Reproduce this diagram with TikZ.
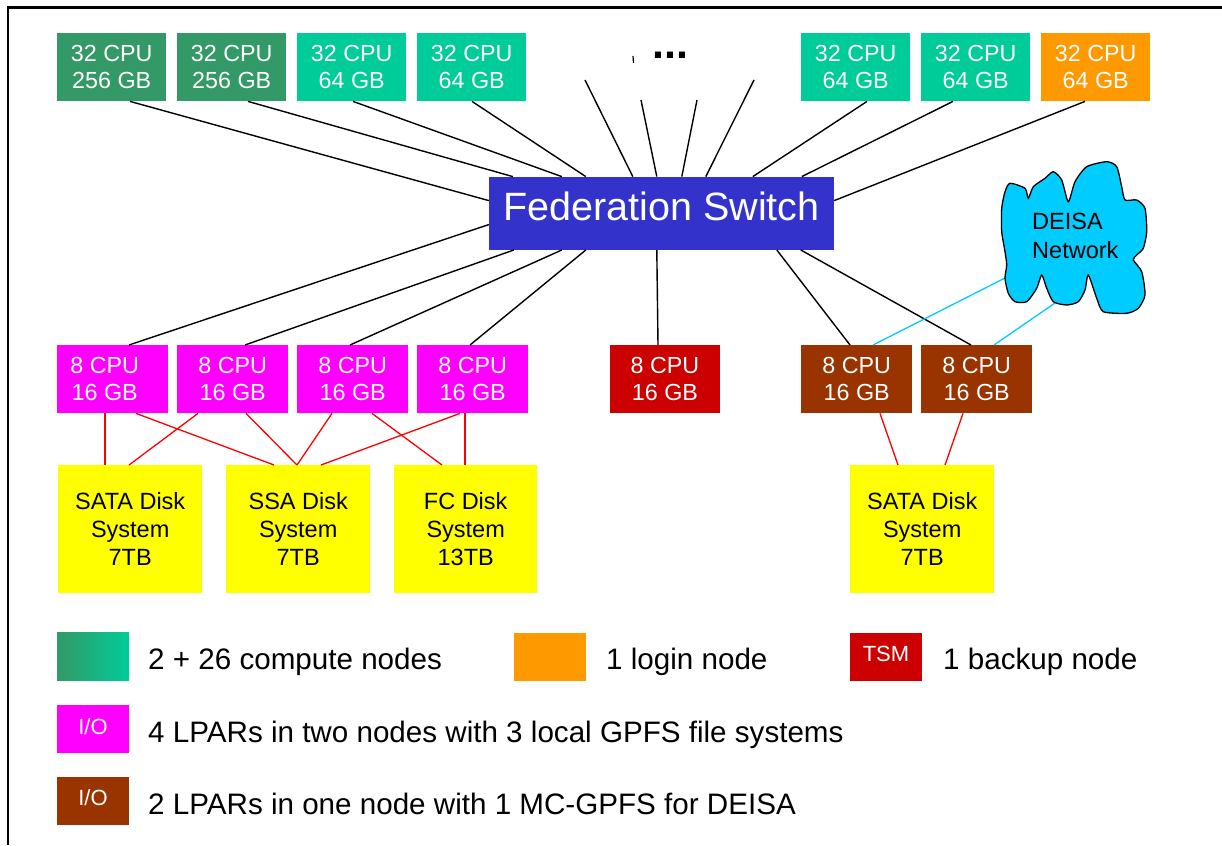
\documentclass[tikz,border=0pt]{standalone}
\usepackage{fontspec}
\setmainfont{Liberation Sans}
\definecolor{dkgreen}{HTML}{339966}
\definecolor{tealc}{HTML}{00CC99}
\definecolor{orange1}{HTML}{FF9900}
\definecolor{switchblue}{HTML}{3333CC}
\definecolor{magenta1}{HTML}{FF00FF}
\definecolor{tsmred}{HTML}{CC0000}
\definecolor{brown1}{HTML}{993300}
\definecolor{diskyellow}{HTML}{FFFF00}
\definecolor{cloudblue}{HTML}{00CCFF}
\definecolor{linkred}{HTML}{FF0000}
\begin{document}
\begin{tikzpicture}[x=1pt,y=-1pt,
  box/.style={anchor=north west, inner sep=0pt, align=center, font=\fontsize{23.3}{27}\selectfont},
  topbox/.style={box, text=white, minimum width=109pt, minimum height=68pt},
  iobox/.style={box, text=white, minimum width=111pt, minimum height=68pt},
  diskbox/.style={box, fill=diskyellow, text=black, minimum width=144pt, minimum height=128pt, font=\fontsize{23.5}{28}\selectfont},
  link/.style={line width=1.4pt, black},
  redlink/.style={line width=1.3pt, linkred},
  bluelink/.style={line width=1.3pt, cloudblue},
  legtext/.style={anchor=base west, inner sep=0pt, font=\fontsize{29.6}{34}\selectfont},
  swatch/.style={anchor=north west, inner sep=0pt, minimum width=72pt, minimum height=48pt},
  swlabel/.style={text=white, inner sep=0pt, font=\fontsize{22}{26}\selectfont}
]
\useasboundingbox (0,0) rectangle (1222,845);
% frame
\draw[line width=2.2pt, line join=miter] (1222,7.5) -- (8,7.5) -- (8,845);

% top row
\node[topbox, fill=dkgreen] (b1) at (57,33) {32 CPU\\256 GB};
\node[topbox, fill=dkgreen] (b2) at (177,33) {32 CPU\\256 GB};
\node[topbox, fill=tealc] (b3) at (297,33) {32 CPU\\64 GB};
\node[topbox, fill=tealc] (b4) at (417,33) {32 CPU\\64 GB};
\node[topbox, fill=tealc] (b5) at (801,33) {32 CPU\\64 GB};
\node[topbox, fill=tealc] (b6) at (921,33) {32 CPU\\64 GB};
\node[topbox, fill=orange1] (b7) at (1041,33) {32 CPU\\64 GB};
\node[inner sep=0pt, anchor=base, font=\bfseries\fontsize{43}{48}\selectfont] (dots) at (670.5,59) {...};
\draw[line width=1.2pt] (633,56) -- (633.5,63);

% switch
\node[fill=switchblue, minimum width=345pt, minimum height=73pt, inner sep=0pt] (sw) at (661.5,213.3) {};
\node[text=white, inner sep=0pt, font=\fontsize{39.5}{44}\selectfont] (swt) at (661.5,206) {Federation Switch};

% free line ends
\coordinate (f1) at (585,80);
\coordinate (f2) at (641,100);
\coordinate (f3) at (697,100);
\coordinate (f4) at (754,80);

% I/O row
\node[iobox, fill=magenta1] (m1) at (57,345) {8 CPU\hspace*{16pt}\\16 GB\hspace*{16pt}};
\node[iobox, fill=magenta1] (m2) at (177,345) {8 CPU\\16 GB};
\node[iobox, fill=magenta1] (m3) at (297,345) {8 CPU\\16 GB};
\node[iobox, fill=magenta1] (m4) at (417,345) {8 CPU\\16 GB};
\node[iobox, fill=tsmred, minimum width=110.5pt] (r1) at (609.5,345) {8 CPU\\16 GB};
\node[iobox, fill=brown1] (br1) at (801,345) {8 CPU\\16 GB};
\node[iobox, fill=brown1] (br2) at (921,345) {8 CPU\\16 GB};

% disks
\node[diskbox] (d1) at (58,465) {SATA Disk\\System\\7TB};
\node[diskbox] (d2) at (226,465) {SSA Disk\\System\\7TB};
\node[diskbox, minimum width=143pt] (d3) at (394,465) {FC Disk\\System\\13TB};
\node[diskbox] (d4) at (850,465) {SATA Disk\\System\\7TB};

% upper connectors
\draw[link] ([xshift=73pt]b1.south west) -- ([yshift=-24pt]sw.north west);
\draw[link] ([xshift=71pt]b2.south west) -- ([xshift=24pt]sw.north west);
\draw[link] ([xshift=56pt]b3.south west) -- ([xshift=73pt]sw.north west);
\draw[link] ([xshift=55pt]b4.south west) -- ([xshift=97pt]sw.north west);
\draw[link] (f1) -- ([xshift=144pt]sw.north west);
\draw[link] (f2) -- ([xshift=168pt]sw.north west);
\draw[link] (f3) -- ([xshift=193pt]sw.north west);
\draw[link] (f4) -- ([xshift=217pt]sw.north west);
\draw[link] ([xshift=66pt]b5.south west) -- ([xshift=264pt]sw.north west);
\draw[link] ([xshift=32pt]b6.south west) -- ([xshift=313pt]sw.north west);
\draw[link] ([xshift=44pt]b7.south west) -- ([yshift=-24pt]sw.north east);

% lower connectors
\draw[link] ([xshift=72pt]m1.north west) -- ([yshift=-48pt]sw.north west);
\draw[link] ([xshift=68pt]m2.north west) -- ([xshift=25pt]sw.south west);
\draw[link] ([xshift=53pt]m3.north west) -- ([xshift=73pt]sw.south west);
\draw[link] ([xshift=53pt]m4.north west) -- ([xshift=97pt]sw.south west);
\draw[link] ([xshift=48.5pt]r1.north west) -- ([xshift=168pt]sw.south west);
\draw[link] ([xshift=49pt]br1.north west) -- ([xshift=288pt]sw.south west);
\draw[link] ([xshift=50pt]br2.north west) -- ([xshift=312pt]sw.south west);

% disk links
\draw[redlink] ([xshift=48pt]m1.south west) -- ([xshift=47pt]d1.north west);
\draw[redlink] ([xshift=79pt]m1.south west) -- ([xshift=48pt]d2.north west);
\draw[redlink] ([xshift=21pt]m2.south west) -- ([xshift=71pt]d1.north west);
\draw[redlink] ([xshift=69pt]m2.south west) -- ([xshift=71pt]d2.north west);
\draw[redlink] ([xshift=35pt]m3.south west) -- ([xshift=71pt]d2.north west);
\draw[redlink] ([xshift=75pt]m3.south west) -- ([xshift=48pt]d3.north west);
\draw[redlink] ([xshift=43pt]m4.south west) -- ([xshift=95pt]d2.north west);
\draw[redlink] ([xshift=48pt]m4.south west) -- ([xshift=71pt]d3.north west);
\draw[redlink] ([xshift=79pt]br1.south west) -- ([xshift=48pt]d4.north west);
\draw[redlink] ([xshift=42pt]br2.south west) -- ([xshift=95pt]d4.north west);

% DEISA cloud
\coordinate (cl1) at (1005,278);
\coordinate (cl2) at (1055,303);
\draw[bluelink] ([xshift=72pt]br1.north west) -- (cl1);
\draw[bluelink] ([xshift=73pt]br2.north west) -- (cl2);
\draw[line width=1.3pt, fill=cloudblue] plot[smooth cycle, tension=0.4] coordinates {
 (1010,183.3) (1025,188.3) (1028.3,198.3) (1033.3,186.7) (1045,178.3) (1053.3,171.7)
 (1061.7,180) (1068.3,201.7) (1075,181.7) (1086.7,166.7) (1106.7,161.7) (1116.7,166.7)
 (1121.7,186.7) (1125,200) (1136.7,200) (1145,208.3) (1146.7,231.7) (1143.3,248.3)
 (1136.7,255) (1133.3,260) (1141.7,271.7) (1145,295) (1138.3,308.3) (1126.7,313.3)
 (1103.3,311.7) (1096.7,298.3) (1088.3,275) (1085,290) (1078.3,301.7) (1066.7,305)
 (1053.3,301.7) (1046.7,288.3) (1041.7,275) (1036.7,288.3) (1026.7,301.7) (1015,301.7)
 (1008.3,293.3) (1005,278.3) (1006.7,265) (1005,251.7) (1001.7,231.7) (1001.7,208.3)
 (1005,191.7)};
\node[anchor=north west, inner sep=0pt, align=left, font=\fontsize{23.5}{28.5}\selectfont] (deisa) at (1032,213.3) {DEISA\\Network};

% legend
\node[swatch, left color=dkgreen, right color=tealc] (s1) at (57,632) {};
\node[legtext] (t1) at (148,669) {2 + 26 compute nodes};
\node[swatch, fill=orange1] (s2) at (514,633) {};
\node[legtext] (t2) at (606,669) {1 login node};
\node[swatch, fill=tsmred] (s3) at (850,633) {};
\node[swlabel] (s3l) at (886,654) {TSM};
\node[legtext] (t3) at (943,669) {1 backup node};
\node[swatch, fill=magenta1] (s4) at (57,705) {};
\node[swlabel] (s4l) at (93,727) {I/O};
\node[legtext] (t4) at (148,742.5) {4 LPARs in two nodes with 3 local GPFS file systems};
\node[swatch, fill=brown1] (s5) at (57,777) {};
\node[swlabel] (s5l) at (93,798) {I/O};
\node[legtext] (t5) at (148,814) {2 LPARs in one node with 1 MC-GPFS for DEISA};
\end{tikzpicture}
\end{document}
